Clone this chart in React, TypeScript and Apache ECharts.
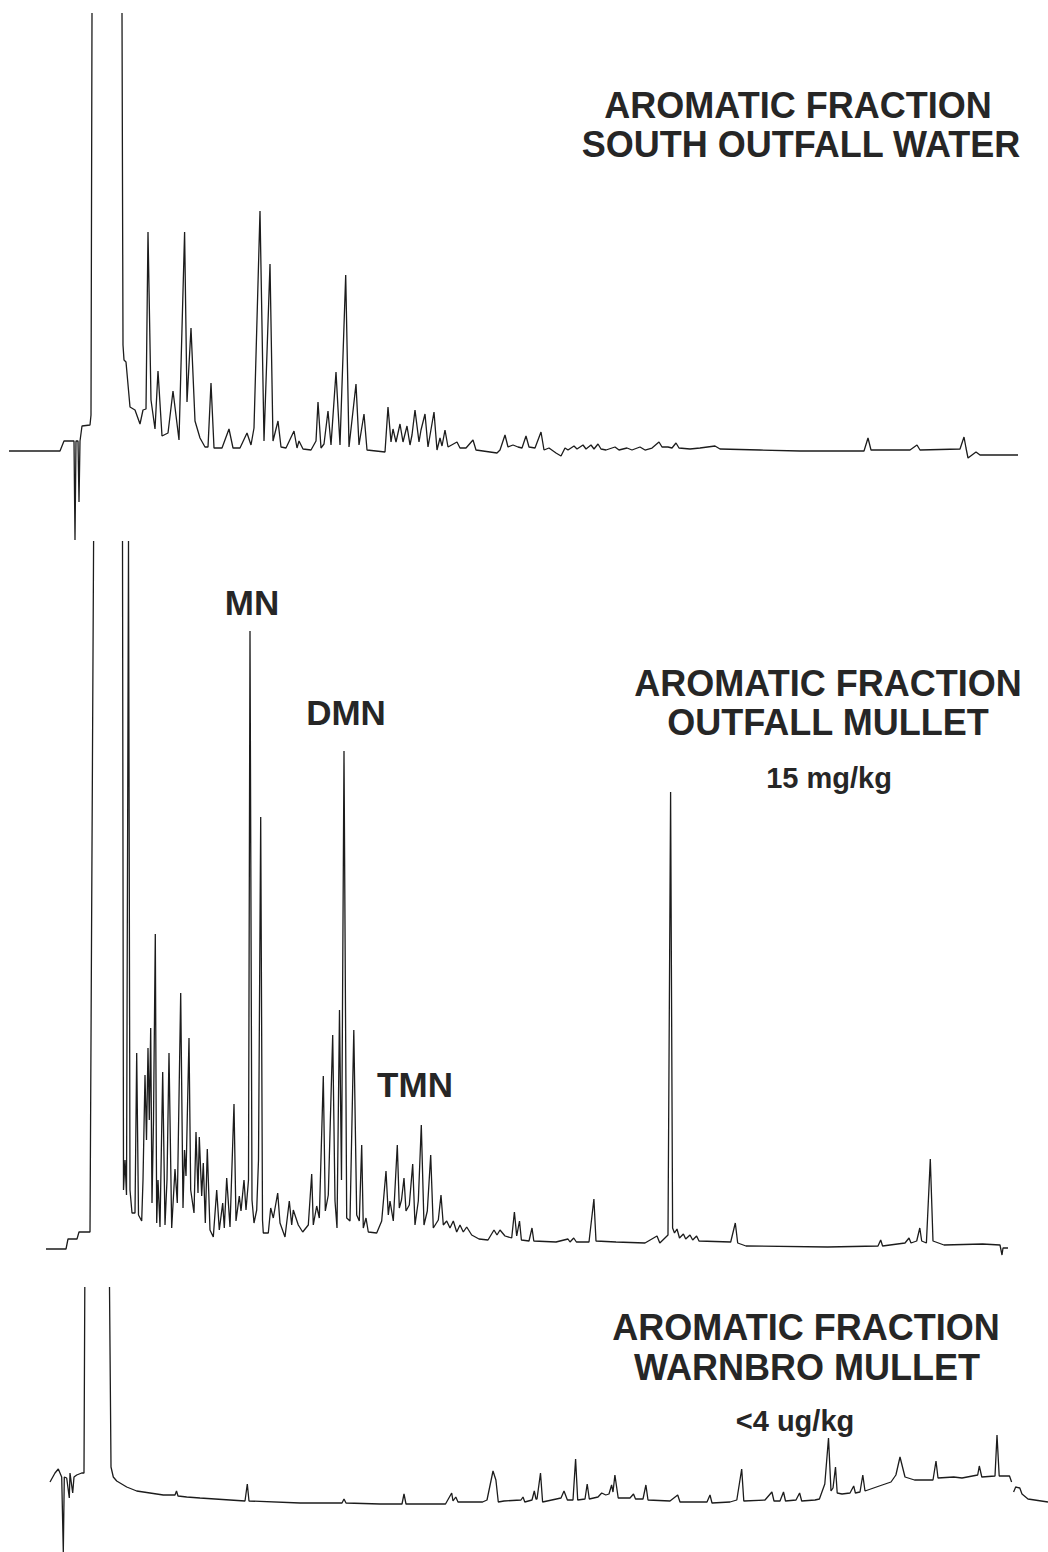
import React, { useEffect, useRef } from "react";
import * as echarts from "echarts";

// Retention position (x) and detector response above baseline (y). A null response breaks the pen trace (off-scale).
const southOutfallWater: [number, number | null][] = [
  [9,-1],[60,-1],[64,9],[74,9],[75,-90],[76,9],[78,9],[79,-52],[80,9],[82,24],[90,25],[91,35],[92,437],[92.5,null],
  [122,437],[123,105],[124,90],[126,88],[130,43],[135,40],[140,26],[143,40],[146,41],[148,218],[151,50],[155,21],
  [158,79],[162,14],[168,17],[173,59],[179,10],[184.6,218],[187,48],[191,122],[195,29],[200,12],[205,3],[208,3],
  [211,67],[214,2],[222,2],[229,21],[233,2],[240,2],[247,17],[251,5],[254,22],[260,239],[264,9],[270,186],[273,9],
  [278,29],[281,3],[286,2],[294,19],[297,2],[299,9],[303,1],[311,0],[316,9],[318,48],[321,2],[324,6],[328,39],
  [331,5],[336,78],[340,5],[345.7,175],[349,3],[356,66],[359,5],[364,36],[367,0],[385,-2],[388,43],[391,8],[393,21],
  [396,8],[400,26],[403,8],[407,24],[410,5],[412,15],[415,40],[419,8],[421,20],[425,36],[428,3],[434,38],[437,0],
  [440,12],[442,4],[445,20],[448,3],[457,8],[460,2],[466,2],[473,10],[476,0],[490,-2],[497,-3],[500,0],[505,15],
  [508,3],[513,5],[518,3],[522,2],[526,14],[529,3],[535,2],[541,18],[544,0],[549,2],[556,-3],[561,-6],[565,2],
  [568,0],[574,4],[577,1],[583,5],[586,1],[591,5],[594,1],[598,6],[601,1],[606,0],[615,3],[619,0],[627,2],[632,0],
  [640,3],[645,0],[652,2],[659,8],[662,3],[668,3],[672,2],[676,7],[679,2],[690,1],[700,2],[715,4],[720,1],[760,0],
  [800,-1],[864,-1],[868,12],[871,0],[910,0],[917,5],[920,0],[960,1],[964,13],[966,2],[968,-8],[972,-5],[976,-2],
  [980,-5],[1018,-5]
];

const outfallMullet: [number, number | null][] = [
  [46,-9],[66,-9],[68,1],[77,1],[79,8],[90,8],[93.6,699],[94,null],
  [122.5,699],[123.5,50],[125,80],[126.5,45],[128.5,699],[130,50],[132,27],[135,27],[136.7,187],[138.5,25],
  [141.7,19],[143,60],[145,165],[146.5,100],[148,192],[149.3,120],[150.7,212],[152,37],[153.5,120],[155.3,306],
  [156.7,17],[158,60],[160,13],[162.7,168],[165,15],[167,60],[169,187],[171.7,12],[175,71],[177.3,37],[180.7,247],
  [183,32],[184.5,90],[186,64],[189,202],[190.7,50],[194,27],[196,108],[198,47],[199.3,103],[201.7,44],[203.3,77],
  [205.3,17],[207.3,91],[210,10],[213.3,3],[216.7,50],[219.3,10],[222.7,37],[224.3,12],[226.7,62],[230,13],
  [234,136],[236,19],[239.3,44],[241,29],[244,60],[246,30],[248.5,60],[250,609],[252,40],[254,17],[256.7,30],
  [258.5,80],[260.7,423],[262.5,20],[263.3,7],[268.3,7],[270.7,32],[273.3,22],[277.7,47],[280,17],[285,3],
  [289.3,39],[291.7,15],[293.3,30],[298.3,15],[302.7,8],[308.3,15],[311.7,66],[313.3,15],[316.7,34],[319.3,22],
  [323.3,164],[325.3,29],[328.3,45],[332.7,205],[335,39],[337,12],[339.5,230],[341.5,60],[344,489],[346.7,22],
  [350,19],[353.8,210],[356.7,25],[359.3,19],[361.7,95],[363.3,12],[366,22],[368.3,8],[376.7,7],[381.7,19],
  [386,69],[388.3,25],[390,39],[393.3,19],[397.3,95],[399.3,32],[401.5,40],[404,62],[406,29],[409.3,35],
  [412.7,76],[415,15],[418.3,39],[421.3,115],[424,15],[427.3,29],[430.7,85],[433.3,12],[438.3,20],[441,45],
  [443.3,15],[446.7,19],[450,12],[453.3,19],[456.7,8],[460,15],[463.3,8],[466.7,13],[471.7,5],[479,1],[488,0],
  [494,10],[497,5],[500,10],[505,4],[511.7,2],[514.4,28],[516.7,4],[519.5,19],[521.4,0],[529,-1],[532,12],
  [533.8,-1],[556,-2],[568,1],[570,-2],[573.7,2],[576.4,-2],[589,-2],[593.9,41],[596,-1],[616,-2],[645,-3],
  [657,4],[659.8,-3],[668,5],[670.6,448],[672.6,12],[674.5,7],[677,11],[679.5,2],[683.4,6],[685.7,1],[690,5],
  [692.7,0],[696.6,4],[699,-1],[730.7,-2],[735.3,17],[737.7,-3],[746,-6],[827.6,-7],[878,-6],[880.7,0],
  [882.6,-6],[905,-3],[909,2],[911,-3],[916.7,-1],[919.8,12],[921.7,-1],[926.4,-3],[930.3,81],[933,-1],[944,-5],
  [982.6,-4],[1000,-5],[1002,-15],[1003,-8],[1008,-8]
];

const warnbroMullet: [number, number | null][] = [
  [50,18],[55,27],[58.3,31],[61.7,23],[63.3,-52],[64.3,23],[66.7,22],[69.3,2],[70,27],[72.7,7],[74,23],[76.7,25],
  [81.7,27],[84,27],[84.8,213],[85.5,null],
  [109.5,213],[111,33],[113.3,23],[116.7,19],[126.7,13],[136.7,9],[150,7],[163.3,5],[175,5],[176.5,9],[178,4],
  [186.7,3],[200,2],[230,0],[245,-1],[247.3,16],[249,-1],[300,-3],[342,-3],[344,1],[346,-3],[380,-4],[402,-4],
  [404,6],[406,-4],[445.5,-4],[451.7,7],[453,-1],[455.8,3],[458,-2],[482.6,-2],[487,0],[493,29],[495.9,20],
  [498.3,-2],[504,-1],[521,0],[523,3],[524.8,-2],[532,0],[534.3,9],[536,1],[537,1],[540.5,27],[542.6,-2],[561,2],
  [564,9],[567.4,0],[573,0],[575.6,41],[577.7,0],[585,1],[587.2,16],[589.3,1],[598,3],[601.7,7],[605.8,5],[609,6],
  [611.6,15],[613,8],[614.9,25],[618.2,2],[630,2],[633.5,6],[635.5,1],[643,1],[645.9,15],[648,0],[670,-1],
  [677.7,5],[680,-2],[700,-2],[707,-2],[710,5],[712,-3],[730,-2],[736.8,0],[741.7,31],[743.8,-1],[765,0],
  [771.9,8],[774,-1],[780,-1],[783.5,8],[785.5,-1],[796,0],[799.6,7],[801.7,-1],[815,0],[819.4,1],[824.8,16],
  [828.5,62],[831,9],[833,12],[835.5,33],[837.2,7],[842,6],[850,7],[853.7,14],[855.4,7],[860,8],[862.8,25],
  [865,9],[879.3,14],[891,18],[895.9,25],[900,43],[905,23],[914.5,20],[933,20],[936,39],[938,22],[953.7,23],
  [962,22],[977.7,25],[979.3,34],[981.8,23],[995,24],[997,65],[999.2,24],[1009.5,24],[1011.6,18],[1012.6,null],
  [1013.6,8],[1015.7,13],[1019.8,12],[1022,6],[1028,1],[1048,-2]
];

const panelTitles: string[][] = [
  ["AROMATIC FRACTION", "SOUTH OUTFALL WATER"],
  ["AROMATIC FRACTION", "OUTFALL MULLET"],
  ["AROMATIC FRACTION", "WARNBRO MULLET"],
];
const concentrations: string[] = ["", "15 mg/kg", "<4 ug/kg"];
const peakLabels: string[] = ["MN", "DMN", "TMN"];

const toSeries = (d: [number, number | null][]) => d.map(([x, y]) => [x, y === null ? "-" : y]);

export default function App() {
  const ref = useRef<HTMLDivElement>(null);
  useEffect(() => {
    if (!ref.current) return;
    const chart = echarts.init(ref.current, undefined, { renderer: "svg" });
    const ink = "#1c1c1c";
    const titleFont = 'bold 36px "Liberation Sans", Arial, sans-serif';
    const smallFont = 'bold 29px "Liberation Sans", Arial, sans-serif';
    const labelFont = 'bold 35px "Liberation Sans", Arial, sans-serif';
    const txt = (text: string, x: number, y: number, font: string) => ({
      type: "text", x, y, silent: true,
      style: { text, font, fill: "#262626", textAlign: "center", textVerticalAlign: "middle" },
    });
    const traces = [southOutfallWater, outfallMullet, warnbroMullet];
    chart.setOption({
      animation: false,
      backgroundColor: "#ffffff",
      grid: [
        { left: 0, top: 0, width: 1048, height: 545 },
        { left: 0, top: 540, width: 1048, height: 720 },
        { left: 0, top: 1270, width: 1048, height: 282 },
      ],
      xAxis: [0, 1, 2].map((i) => ({ type: "value", gridIndex: i, min: 0, max: 1048, show: false })),
      yAxis: [
        { type: "value", gridIndex: 0, min: -95, max: 450, show: false },
        { type: "value", gridIndex: 1, min: -20, max: 700, show: false },
        { type: "value", gridIndex: 2, min: -52, max: 230, show: false },
      ],
      series: traces.map((d, i) => ({
        type: "line",
        xAxisIndex: i,
        yAxisIndex: i,
        data: toSeries(d),
        showSymbol: false,
        symbol: "none",
        connectNulls: false,
        silent: true,
        lineStyle: { color: ink, width: 1.3 },
      })),
      graphic: [
        txt(panelTitles[0][0], 798, 105, titleFont),
        txt(panelTitles[0][1], 801, 144, titleFont),
        txt(panelTitles[1][0], 828, 683, titleFont),
        txt(panelTitles[1][1], 828, 722, titleFont),
        txt(concentrations[1], 829, 778, smallFont),
        txt(panelTitles[2][0], 806, 1327, titleFont),
        txt(panelTitles[2][1], 807, 1367, titleFont),
        txt(concentrations[2], 795, 1421, smallFont),
        txt(peakLabels[0], 252, 602, labelFont),
        txt(peakLabels[1], 346, 712, labelFont),
        txt(peakLabels[2], 415, 1084, labelFont),
      ],
    });
    return () => chart.dispose();
  }, []);
  return (
    <div
      ref={ref}
      style={{ position: "absolute", left: 0, top: 0, width: 1048, height: 1552, background: "#fff" }}
    />
  );
}
